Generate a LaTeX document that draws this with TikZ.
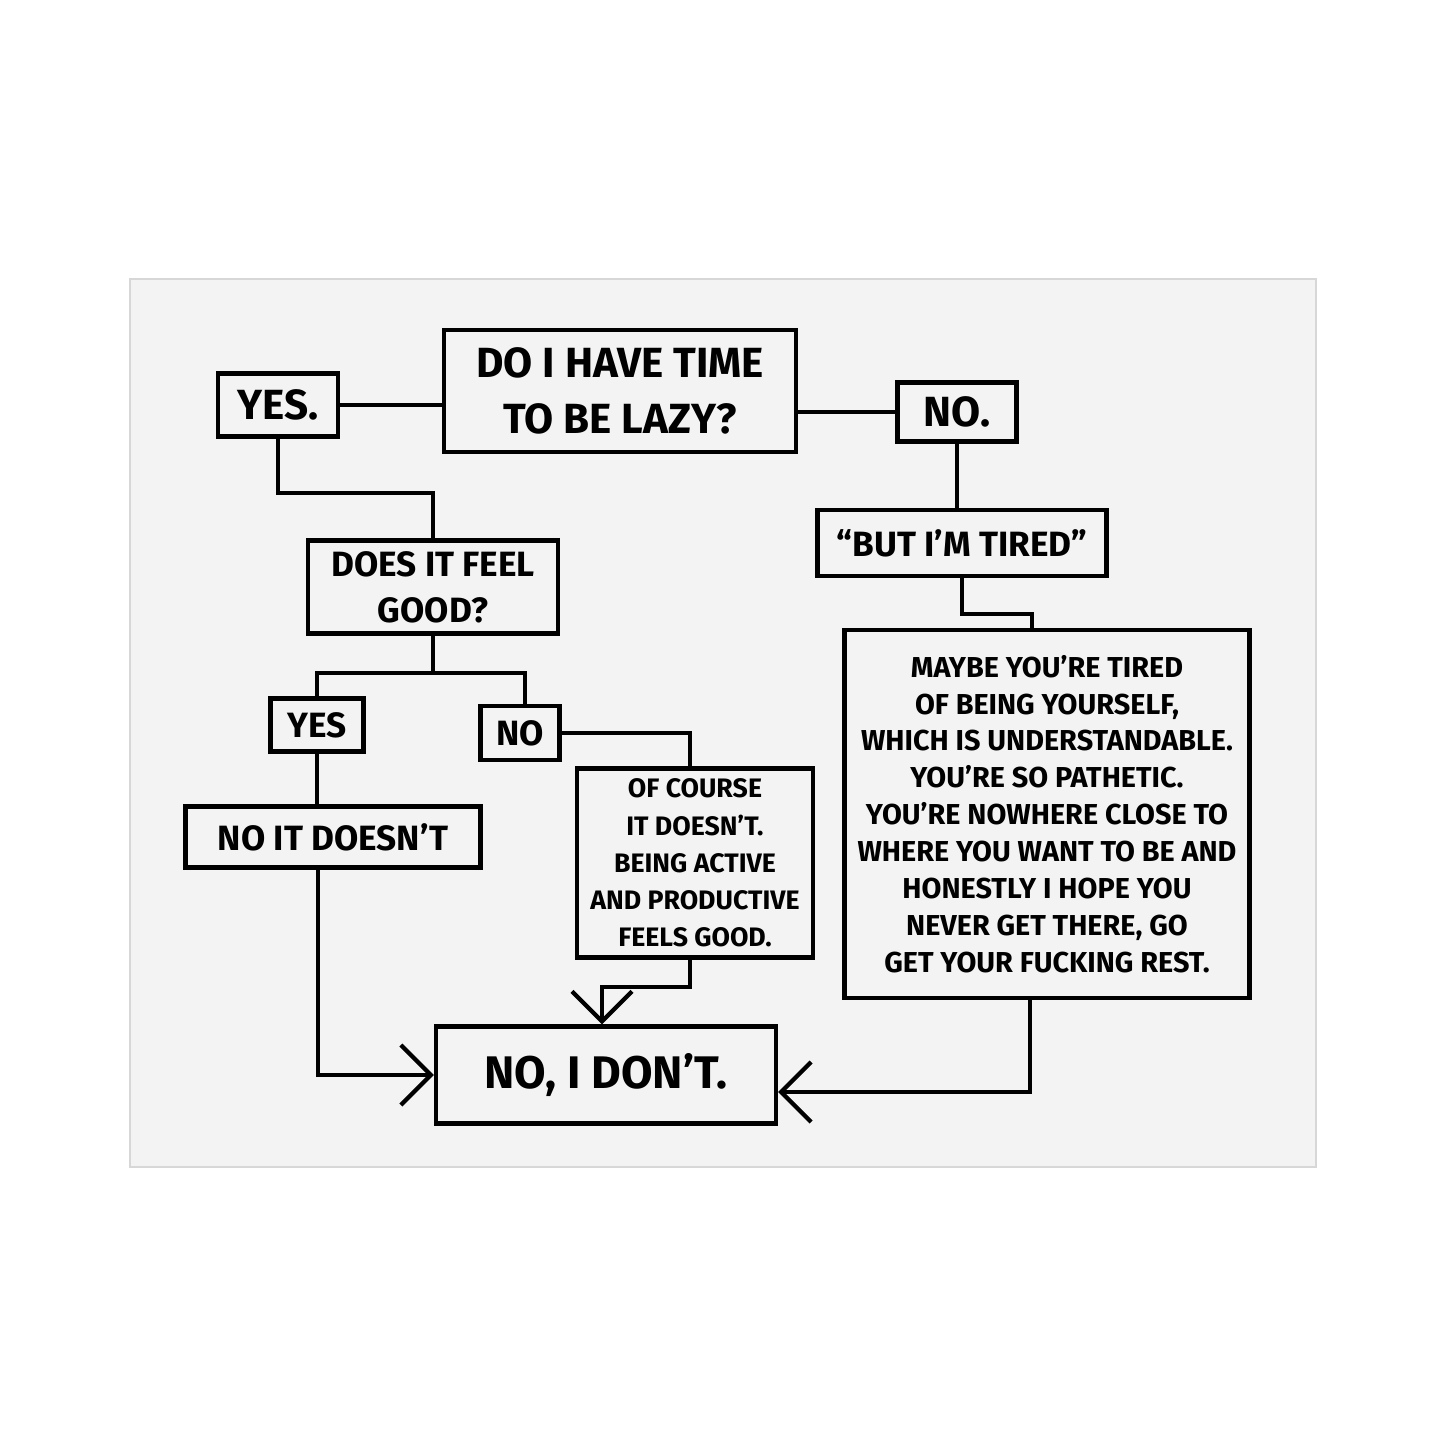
\documentclass[tikz,border=0pt]{standalone}
\usepackage{fontspec}
\setmainfont{Fira Sans}
\usetikzlibrary{arrows.meta}
\begin{document}
\begin{tikzpicture}[x=0.1mm,y=-0.1mm,
  box/.style={draw,line width=1.2pt,rectangle,inner sep=0pt,align=center,font=\bfseries\fontsize{10}{12}\selectfont},
  ln/.style={line width=1.2pt},
  arr/.style={ln,-{Straight Barb[length=3mm,width=6mm,line width=1.2pt]}}]
\useasboundingbox (0,0) rectangle (1445,1445);
\fill[white] (0,0) rectangle (1445,1445);
\draw[fill={rgb,255:red,243;green,243;blue,243},draw={rgb,255:red,215;green,215;blue,215}] (130,279) rectangle (1316,1167);
\node[box,minimum width=35.2mm,minimum height=12.2mm,font=\bfseries\fontsize{12}{16}\selectfont] (q) at (620,391) {DO I HAVE TIME\\TO BE LAZY?};
\node[box,minimum width=12mm,minimum height=6.3mm,font=\bfseries\fontsize{12}{14}\selectfont] (yes1) at (278,405) {YES.};
\node[box,minimum width=11.9mm,minimum height=5.9mm,font=\bfseries\fontsize{12}{14}\selectfont] (no1) at (957,412) {NO.};
\node[box,minimum width=25mm,minimum height=9.3mm,font=\bfseries\fontsize{10}{13}\selectfont] (good) at (433,587) {DOES IT FEEL\\GOOD?};
\node[box,minimum width=28.9mm,minimum height=6.6mm,font=\bfseries\fontsize{10}{12}\selectfont] (tired) at (962,543) {``BUT I'M TIRED''};
\node[box,minimum width=40.5mm,minimum height=36.8mm,font=\bfseries\fontsize{8.2}{10.5}\selectfont] (maybe) at (1047,814) {MAYBE YOU'RE TIRED\\OF BEING YOURSELF,\\WHICH IS UNDERSTANDABLE.\\YOU'RE SO PATHETIC.\\YOU'RE NOWHERE CLOSE TO\\WHERE YOU WANT TO BE AND\\HONESTLY I HOPE YOU\\NEVER GET THERE, GO\\GET YOUR FUCKING REST.};
\node[box,minimum width=9.3mm,minimum height=5.3mm,font=\bfseries\fontsize{10}{12}\selectfont] (yes2) at (317,725) {YES};
\node[box,minimum width=7.9mm,minimum height=5.4mm,font=\bfseries\fontsize{10}{12}\selectfont] (no2) at (520,733) {NO};
\node[box,minimum width=29.5mm,minimum height=6.1mm,font=\bfseries\fontsize{10}{12}\selectfont] (nodoes) at (333,837) {NO IT DOESN'T};
\node[box,minimum width=23.6mm,minimum height=18.9mm,font=\bfseries\fontsize{7.6}{10.6}\selectfont] (course) at (695,863) {OF COURSE\\IT DOESN'T.\\BEING ACTIVE\\AND PRODUCTIVE\\FEELS GOOD.};
\node[box,minimum width=34mm,minimum height=9.7mm,font=\bfseries\fontsize{13}{16}\selectfont] (final) at (606,1075) {NO, I DON'T.};
\draw[ln] (q.west|-yes1) -- (yes1.east);
\draw[ln] (q.east|-no1) -- (no1.west);
\draw[ln] (yes1.south) -- ++(0,54) -| (good.north);
\draw[ln] (no1.south) -- (no1.south|-tired.north);
\draw[ln] (tired.south) -- ++(0,36) -| ([xshift=-1.5mm]maybe.north);
\draw[ln] (good.south) -- ++(0,37) coordinate (gs);
\draw[ln] (yes2.north) |- (gs) -| ([xshift=0.5mm]no2.north);
\draw[ln] (yes2.south) -- (yes2.south|-nodoes.north);
\draw[ln] (no2.east) -| ([xshift=-0.5mm]course.north);
\draw[arr] ([xshift=-1.5mm]nodoes.south) |- (final.west);
\draw[arr] ([xshift=-0.5mm]course.south) -- ++(0,27) -| ([xshift=-0.4mm]final.north);
\draw[arr] ([xshift=-1.7mm]maybe.south) |- ([yshift=-1.7mm]final.east);
\end{tikzpicture}
\end{document}
